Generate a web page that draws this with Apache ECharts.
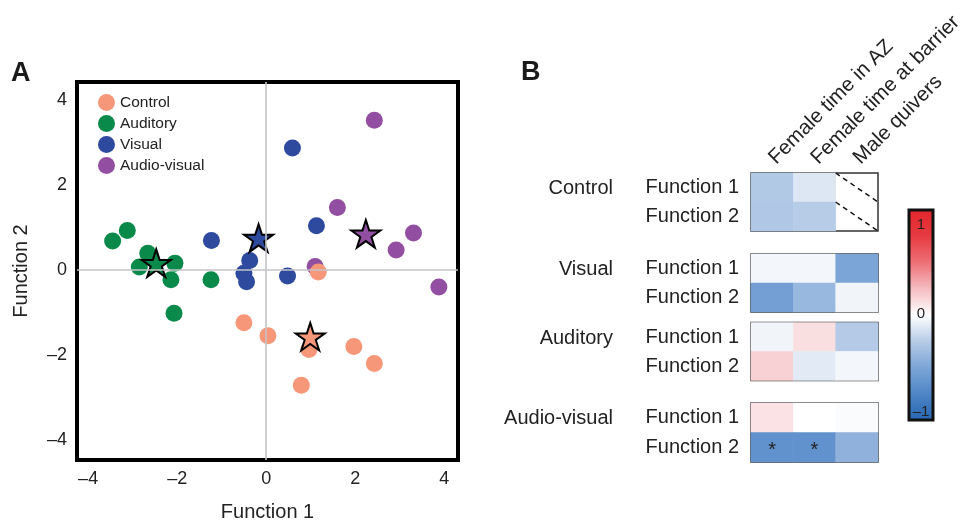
<!DOCTYPE html>
<html>
<head>
<meta charset="utf-8">
<script src="https://cdn.jsdelivr.net/npm/echarts@6/dist/echarts.min.js"></script>
<style>
html,body{margin:0;padding:0;background:#fff;}
#chart{width:962px;height:522px;}
</style>
</head>
<body>
<div id="chart"></div>
<script>
// ---------- Panel A data (discriminant function scores) ----------
const groupNames = ['Control', 'Auditory', 'Visual', 'Audio-visual'];
const groupColors = ['#f7977a', '#0a8a4a', '#2e4a9e', '#924ea0'];
const controlPoints = [[1.17, -0.05], [-0.50, -1.24], [0.04, -1.55], [0.96, -1.87], [1.97, -1.80], [2.43, -2.20], [0.79, -2.71]];
const auditoryPoints = [[-3.45, 0.68], [-3.12, 0.93], [-2.66, 0.39], [-2.85, 0.07], [-2.05, 0.16], [-2.14, -0.23], [-1.24, -0.23], [-2.07, -1.02]];
const visualPoints = [[0.59, 2.87], [-1.23, 0.69], [1.13, 1.04], [-0.37, 0.22], [-0.50, -0.08], [-0.44, -0.28], [0.48, -0.14]];
const audioVisualPoints = [[2.43, 3.52], [1.60, 1.47], [3.31, 0.87], [2.92, 0.47], [1.10, 0.08], [3.88, -0.40]];
const centroids = [[0.99, -1.57], [-2.47, 0.16], [-0.17, 0.75], [2.24, 0.85]]; // Control, Auditory, Visual, Audio-visual
const tickValues = [-4, -2, 0, 2, 4];

// ---------- Panel B data (loadings) ----------
const measures = ['Female time in AZ', 'Female time at barrier', 'Male quivers'];
const functionNames = ['Function 1', 'Function 2'];
const panelBGroups = ['Control', 'Visual', 'Auditory', 'Audio-visual'];
const controlLoadings = [[-0.27, -0.12, null], [-0.28, -0.25, null]];
const visualLoadings = [[-0.04, -0.04, -0.50], [-0.55, -0.38, -0.05]];
const auditoryLoadings = [[-0.05, 0.12, -0.26], [0.17, -0.10, -0.04]];
const audioVisualLoadings = [[0.11, 0.0, -0.02], [-0.65, -0.65, -0.42]];
const significance = [[[false, false, false], [false, false, false]],
                      [[false, false, false], [false, false, false]],
                      [[false, false, false], [false, false, false]],
                      [[false, false, false], [true, true, false]]];
const colorbarTicks = ['1', '0', '\u20131'];

const FONT = 'Liberation Sans, Arial, Helvetica, sans-serif';
const starPath = 'path://M50 0 L61.2 34.55 L97.55 34.55 L68.2 55.9 L79.4 90.45 L50 69.1 L20.6 90.45 L31.8 55.9 L2.45 34.55 L38.8 34.55 Z';
const minusFmt = v => (v < 0 ? '\u2013' + Math.abs(v) : String(v));

const chart = echarts.init(document.getElementById('chart'), null, {renderer: 'canvas'});

// grids
const grids = [
  {left: 77, top: 82, width: 381, height: 378, show: true, borderColor: '#000', borderWidth: 4, backgroundColor: 'transparent', outerBoundsMode: 'none', containLabel: false},
  {left: 751, top: 173, width: 127, height: 58, show: true, borderColor: '#333', borderWidth: 1.5, outerBoundsMode: 'none', containLabel: false},
  {left: 751, top: 254, width: 127, height: 58, show: true, borderColor: '#333', borderWidth: 1.5, outerBoundsMode: 'none', containLabel: false},
  {left: 751, top: 322.5, width: 127, height: 58, show: true, borderColor: '#333', borderWidth: 1.5, outerBoundsMode: 'none', containLabel: false},
  {left: 751, top: 403, width: 127, height: 59, show: true, borderColor: '#333', borderWidth: 1.5, outerBoundsMode: 'none', containLabel: false}
];

const xAxes = [{
  gridIndex: 0, type: 'value', min: -4.25, max: 4.31,
  axisLine: {show: false}, axisTick: {show: false}, splitLine: {show: false},
  axisLabel: {customValues: tickValues, formatter: minusFmt, fontSize: 18, color: '#222', margin: 10, fontFamily: FONT},
  name: 'Function 1', nameLocation: 'middle', nameGap: 42,
  nameTextStyle: {fontSize: 20, color: '#222', fontFamily: FONT}
}];
const yAxes = [{
  gridIndex: 0, type: 'value', min: -4.47, max: 4.42,
  axisLine: {show: false}, axisTick: {show: false}, splitLine: {show: false},
  axisLabel: {customValues: tickValues, formatter: minusFmt, fontSize: 18, color: '#222', margin: 10, fontFamily: FONT},
  name: 'Function 2', nameLocation: 'middle', nameGap: 46,
  nameTextStyle: {fontSize: 20, color: '#222', fontFamily: FONT}
}];
for (let g = 0; g < 4; g++) {
  xAxes.push({
    gridIndex: g + 1, type: 'category', data: measures, position: 'top',
    axisLine: {show: false}, axisTick: {show: false}, splitLine: {show: false},
    axisLabel: {show: g === 0, rotate: -45, interval: 0, fontSize: 20.5, color: '#222', margin: 12, fontFamily: FONT}
  });
  yAxes.push({
    gridIndex: g + 1, type: 'category', data: functionNames, inverse: true,
    axisLine: {show: false}, axisTick: {show: false}, splitLine: {show: false},
    axisLabel: {fontSize: 20, color: '#222', margin: 12, fontFamily: FONT}
  });
}

const series = [];
// zero reference lines
series.push({
  type: 'scatter', xAxisIndex: 0, yAxisIndex: 0, data: [], z: 1, silent: true,
  markLine: {silent: true, symbol: 'none', label: {show: false},
    lineStyle: {color: '#c4c4c8', width: 1.6, type: 'solid'},
    data: [{xAxis: 0}, {yAxis: 0}]}
});
const pointSets = {'Control': controlPoints, 'Auditory': auditoryPoints, 'Visual': visualPoints, 'Audio-visual': audioVisualPoints};
['Audio-visual', 'Visual', 'Auditory', 'Control'].forEach(name => {
  const i = groupNames.indexOf(name);
  series.push({
    name: name, type: 'scatter', xAxisIndex: 0, yAxisIndex: 0, z: 2,
    symbol: 'circle', symbolSize: 17, data: pointSets[name],
    itemStyle: {color: groupColors[i], opacity: 1}, emphasis: {disabled: true}
  });
});
centroids.forEach((c, i) => {
  series.push({
    name: groupNames[i] + ' centroid', type: 'scatter', xAxisIndex: 0, yAxisIndex: 0, z: 3,
    symbol: starPath, symbolKeepAspect: true, symbolSize: 29, data: [c],
    itemStyle: {color: groupColors[i], borderColor: '#000', borderWidth: 2, opacity: 1}, emphasis: {disabled: true}
  });
});

// heatmaps
const loadingSets = [controlLoadings, visualLoadings, auditoryLoadings, audioVisualLoadings];
const heatIdx = [];
loadingSets.forEach((mat, g) => {
  const data = [];
  const naData = [];
  mat.forEach((row, r) => row.forEach((v, c) => {
    if (v === null) naData.push([c, r]);
    else data.push({value: [c, r, v], sig: significance[g][r][c]});
  }));
  heatIdx.push(series.length);
  series.push({
    type: 'heatmap', xAxisIndex: g + 1, yAxisIndex: g + 1, data: data,
    label: {show: true, fontSize: 20, color: '#222', fontFamily: FONT, offset: [0, 3],
      formatter: p => (p.data.sig ? '*' : '')},
    itemStyle: {borderWidth: 0}, emphasis: {disabled: true}
  });
  if (naData.length) {
    series.push({
      type: 'custom', xAxisIndex: g + 1, yAxisIndex: g + 1, data: naData, z: 5, silent: true,
      renderItem: (params, api) => {
        const p = api.coord([api.value(0), api.value(1)]);
        const s = api.size([1, 1]);
        return {type: 'line', shape: {x1: p[0] - s[0] / 2, y1: p[1] - s[1] / 2, x2: p[0] + s[0] / 2, y2: p[1] + s[1] / 2},
          style: {stroke: '#111', lineWidth: 1.5, lineDash: [5, 4]}};
      }
    });
  }
});

// text annotations
const graphics = [
  {type: 'text', left: 11, top: 60, style: {text: 'A', font: 'bold 27px ' + FONT, fill: '#1a1a1a'}},
  {type: 'text', left: 521, top: 59, style: {text: 'B', font: 'bold 27px ' + FONT, fill: '#1a1a1a'}}
];
panelBGroups.forEach((name, g) => {
  const gr = grids[g + 1];
  graphics.push({type: 'text', x: 613, y: gr.top + gr.height / 4 + 1,
    style: {text: name, font: '20px ' + FONT, fill: '#222', textAlign: 'right', textVerticalAlign: 'middle'}});
});
const cbTop = 210, cbH = 210, cbX = 921;
graphics.push({type: 'rect', z: 99, shape: {x: 909, y: cbTop, width: 24, height: cbH},
  style: {fill: 'none', stroke: '#111', lineWidth: 3}});
colorbarTicks.forEach((t, i) => {
  const y = [cbTop + 15, cbTop + cbH / 2 - 1, cbTop + cbH - 8][i];
  graphics.push({type: 'text', x: cbX, y: y, z: 100,
    style: {text: t, font: '15px ' + FONT, fill: '#222', textAlign: 'center', textVerticalAlign: 'middle'}});
});

const option = {
  animation: false,
  textStyle: {fontFamily: FONT},
  grid: grids,
  xAxis: xAxes,
  yAxis: yAxes,
  legend: {
    data: groupNames, orient: 'vertical', left: 93, top: 89,
    icon: 'circle', itemWidth: 17, itemHeight: 17, itemGap: 4,
    textStyle: {fontSize: 15.5, color: '#222', fontFamily: FONT},
    selectedMode: false
  },
  visualMap: {
    type: 'continuous', min: -1, max: 1, seriesIndex: heatIdx,
    calculable: false, realtime: false, hoverLink: false,
    left: 909, top: cbTop, itemWidth: 24, itemHeight: cbH, text: null, showLabel: false,
    padding: 0,
    inRange: {color: ['#2767b2', '#4f86c6', '#7ca5d7', '#b7cce7', '#ffffff', '#f5bcc1', '#ee7077', '#e63b41', '#e3262b']}
  },
  graphic: graphics,
  series: series
};
chart.setOption(option);
</script>
</body>
</html>
